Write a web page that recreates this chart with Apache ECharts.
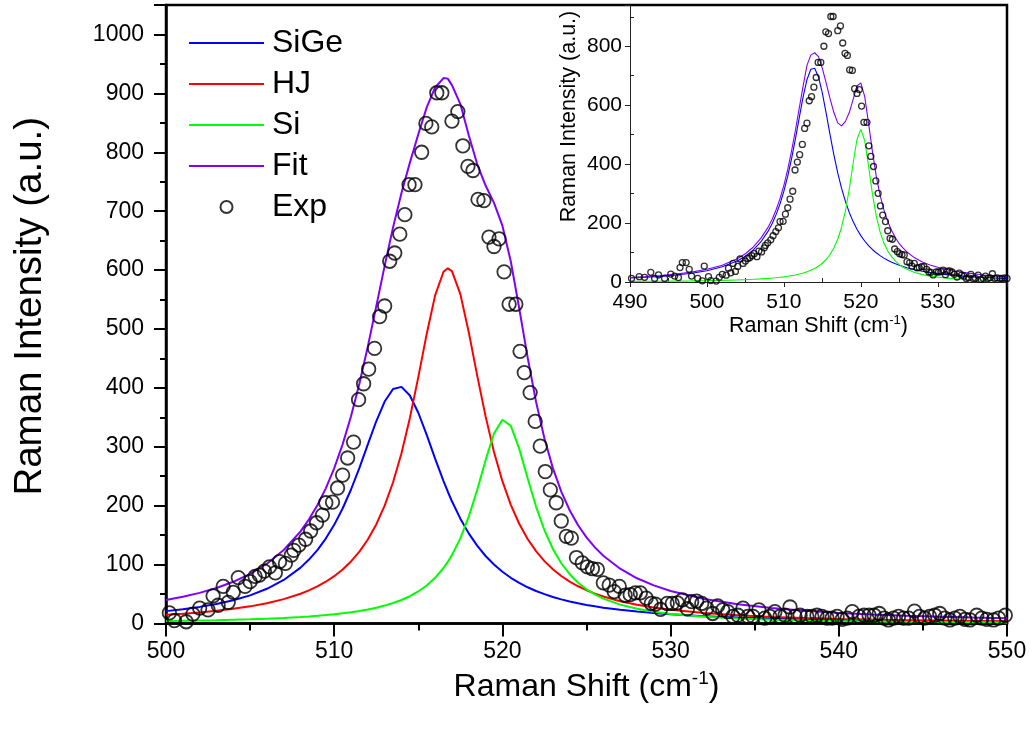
<!DOCTYPE html>
<html>
<head>
<meta charset="utf-8">
<script src="https://cdn.jsdelivr.net/npm/echarts@6/dist/echarts.min.js"></script>
<style>
html,body{margin:0;padding:0;background:#fff;}
#chart{width:1034px;height:733px;}
</style>
</head>
<body>
<div id="chart"></div>
<script>
// ---- tick labels ----
const mainXTicks = [500, 510, 520, 530, 540, 550];
const mainYTicks = [0, 100, 200, 300, 400, 500, 600, 700, 800, 900, 1000];
const insetXTicks = [490, 500, 510, 520, 530];
const insetYTicks = [0, 200, 400, 600, 800];
const legendNames = ['SiGe', 'HJ', 'Si', 'Fit', 'Exp'];

// ---- main panel curves (Raman shift, intensity) ----
const mainX = [500,501,502,503,504,505,506,507,508,508.5,509,509.5,510,510.5,511,511.5,512,512.5,513,513.5,514,514.5,515,515.5,516,516.5,516.75,517,517.5,518,518.5,519,519.5,520,520.5,521,521.5,522,522.5,523,523.5,524,524.5,525,525.5,526,527,528,529,530,532,534,536,538,540,542,544,546,548,550];
const mainSiGe = [21.0,24.2,28.2,33.1,39.5,47.8,58.9,73.9,94.9,108.5,124.7,144.2,167.5,195.2,227.5,264.3,304.0,343.3,376.8,398.0,401.7,387.1,357.8,320.1,280.0,241.8,224.1,207.5,178.0,153.0,132.1,114.6,100.1,87.9,77.6,68.9,61.5,55.2,49.8,45.1,41.0,37.4,34.3,31.5,29.1,26.9,23.2,20.2,17.7,15.7,12.5,10.2,8.5,7.2,6.1,5.3,4.6,4.1,3.6,3.2];
const mainHJ = [14.7,16.6,18.8,21.6,24.9,29.1,34.5,41.4,50.5,56.3,63.0,70.9,80.3,91.6,105.3,122.0,142.6,168.2,200.0,239.8,289.1,349.0,418.3,491.6,557.0,597.2,603.0,598.1,559.2,494.5,421.2,351.6,291.3,241.6,201.5,169.3,143.5,122.8,105.9,92.1,80.7,71.2,63.2,56.5,50.8,45.8,37.8,31.7,27.0,23.2,17.7,13.9,11.2,9.2,7.7,6.6,5.7,4.9,4.3,3.8];
const mainSi = [4.1,4.5,5.1,5.6,6.4,7.2,8.2,9.5,11.1,12.0,13.1,14.3,15.7,17.3,19.1,21.3,23.8,26.8,30.4,34.7,39.9,46.3,54.4,64.5,77.5,94.2,104.5,116.1,144.6,181.4,226.7,277.3,322.6,345.9,335.5,296.9,246.7,198.5,158.3,126.6,102.3,83.7,69.3,58.1,49.3,42.3,32.0,24.9,20.0,16.3,11.5,8.5,6.5,5.2,4.2,3.5,2.9,2.5,2.1,1.9];
const mainFit = [39.8,45.3,52.0,60.3,70.8,84.1,101.6,124.8,156.5,176.8,200.8,229.4,263.5,304.1,351.9,407.6,470.4,538.3,607.2,672.5,730.7,782.4,830.5,876.2,910,926,925,914,881.8,828.9,780.0,743.5,714.0,675.4,614.6,535.1,451.7,376.5,314.0,263.8,224.0,192.3,166.8,146.1,129.2,115.0,93.0,76.8,64.7,55.2,41.7,32.6,26.2,21.6,18.0,15.4,13.2,11.5,10.0,8.9];

// ---- inset curves ----
const insetX = [490,492,494,496,498,500,502,504,505,506,507,508,508.5,509,509.5,510,510.5,511,511.5,512,512.5,513,513.5,514,514.5,515,515.5,516,516.5,517,517.5,518,518.5,519,519.5,520,520.5,521,521.5,522,522.5,523,523.5,524,524.5,525,525.5,526,527,528,529,530,532,534,536,538,539];
const insetSiGe = [13.4,15.9,19.2,23.6,29.7,38.4,51.5,72.4,87.7,108.0,135.8,174.4,199.5,229.4,265.3,308.2,359.1,418.5,485.6,557.6,627.9,686.5,721.9,725.3,695.8,640.9,572.0,499.8,431.3,370.3,317.7,273.3,236.1,205.0,179.1,157.4,139.1,123.6,110.4,99.1,89.4,81.0,73.7,67.3,61.7,56.7,52.3,48.4,41.7,36.4,31.9,28.3,22.6,18.4,15.3,12.9,12.0];
const insetSi = [2.0,2.3,2.7,3.1,3.7,4.5,5.5,7.0,7.9,9.1,10.5,12.3,13.4,14.6,15.9,17.5,19.3,21.5,23.9,26.9,30.3,34.5,39.6,45.9,53.7,63.6,76.3,93.0,115.1,145.0,185.9,241.7,315.3,402.9,483.5,518.0,480,395,300,225,170,132,105,86,71,59,50,43,32,25,20,16.5,11.5,8.5,6.6,5.2,4.7];
const insetFit = [15.5,18.2,22,27,33.5,43,57,80,96,118,148,188,214,246,283,328,382,445,515,590,665,735,770,778,765,725,675,622,575,540,530,545,575,620,665,676,630,540,445,360,295,245,205,175,150,130,115,102,82,68,58,50,38,30,24,20,18];

// ---- experimental points (shared by both panels) ----
const expX = [490.2,491.2,491.9,492.7,493.2,493.7,494.5,495.3,495.8,496.3,496.5,496.8,497.3,497.7,498.0,498.8,499.4,499.65,500.2,500.5,501.2,501.6,502.0,502.5,502.8,503.1,503.4,503.7,504.0,504.3,504.7,505.0,505.3,505.55,505.85,506.15,506.5,506.75,507.1,507.45,507.6,507.9,508.3,508.6,508.95,509.3,509.5,509.9,510.2,510.5,510.8,511.15,511.45,511.75,512.05,512.4,512.7,513.0,513.3,513.6,513.9,514.2,514.45,514.8,515.2,515.45,515.8,516.1,516.4,517.0,517.35,517.65,517.95,518.25,518.55,518.9,519.2,519.5,519.8,520.1,520.4,520.8,521.05,521.3,521.65,521.95,522.25,522.55,522.85,523.2,523.5,523.8,524.1,524.4,524.75,525.05,525.35,525.65,526.0,526.35,526.65,526.95,527.3,527.6,527.9,528.2,528.55,528.85,529.1,529.4,529.8,530.1,530.4,530.7,531.0,531.25,531.55,531.85,532.15,532.5,532.8,533.1,533.4,533.7,534.0,534.3,534.6,534.9,535.25,535.6,535.9,536.2,536.5,536.8,537.1,537.4,537.7,538.1,538.4,538.7,539.0,539.3,539.6,539.9,540.2,540.5,540.8,541.2,541.5,541.8,542.1,542.4,542.7,542.95,543.25,543.55,543.85,544.15,544.5,544.8,545.1,545.4,545.7,546.0,546.3,546.6,546.9,547.2,547.5,547.8,548.2,548.5,548.8,549.2,549.5,549.9];
const expY = [12,18,16,33,12,24,12,27,20,15,49,66,66,43,20,12,4,54,18,5,3,16,26,23,47,31,63,36,53,78,63,71,80,82,89,96,86,105,102,116,124,133,143,157,171,184,205,206,230,252,281,308,380,407,432,467,521,539,615,629,661,694,745,745,800,849,843,901,901,853,869,811,776,769,720,718,656,640,653,597,542,542,462,426,392,343,301,258,227,205,174,148,145,112,103,96,93,92,69,65,54,63,48,49,52,52,43,34,33,24,34,34,35,40,25,37,38,34,26,17,30,23,20,12,14,26,12,12,23,9,12,20,12,14,28,12,14,12,12,14,12,9,9,12,7,9,20,12,14,14,14,17,9,6,9,12,9,9,21,12,9,12,14,17,9,6,9,12,7,6,14,9,7,6,9,14];

const COLORS = {SiGe: '#0000ff', HJ: '#ff0000', Si: '#00ff00', Fit: '#8000ff'};
const FONT = '"Liberation Sans", Arial, Helvetica, sans-serif';

function zip(xs, ys) { return xs.map((x, i) => [x, ys[i]]); }
function step(t) { return t[1] - t[0]; }
const plain = (v) => String(v);

const supRich = (size) => ({ sup: { fontSize: size, fontFamily: FONT, color: '#000', verticalAlign: 'top', lineHeight: Math.round(size * 1.1) } });

const chart = echarts.init(document.getElementById('chart'), null, { renderer: 'canvas' });

const lineSeries = (name, xs, ys, color, width, xi, yi) => ({
  name: name, type: 'line', xAxisIndex: xi, yAxisIndex: yi,
  data: zip(xs, ys), symbol: 'none', smooth: false, clip: true,
  lineStyle: { color: color, width: width }, itemStyle: { color: color },
  z: 3, silent: true
});

const legendData = legendNames.map(n => n === 'Exp'
  ? { name: n }
  : { name: n, itemStyle: { opacity: 0 } });

const option = {
  animation: false,
  backgroundColor: '#fff',
  textStyle: { fontFamily: FONT },
  grid: [
    { left: 166, top: 5, width: 841, height: 618.5, show: true, borderColor: '#000', borderWidth: 2.5, backgroundColor: 'transparent', containLabel: false },
    { left: 630, top: 5, width: 377, height: 277, show: false, containLabel: false }
  ],
  legend: {
    data: legendData, orient: 'vertical', left: 188, top: 27, padding: 0,
    itemWidth: 75, itemHeight: 12, itemGap: 9,
    textStyle: { fontSize: 32, lineHeight: 32, color: '#000', fontFamily: FONT, padding: [0, 0, 0, 3] },
    selectedMode: false
  },
  xAxis: [
    {
      gridIndex: 0, type: 'value',
      min: mainXTicks[0], max: mainXTicks[mainXTicks.length - 1], interval: step(mainXTicks),
      axisLine: { show: true, onZero: false, lineStyle: { color: '#000', width: 2.5 } },
      axisTick: { show: true, length: 13, lineStyle: { color: '#000', width: 2 } },
      minorTick: { show: true, splitNumber: 2, length: 7, lineStyle: { color: '#000', width: 2 } },
      splitLine: { show: false }, minorSplitLine: { show: false },
      axisLabel: { fontSize: 23, color: '#000', margin: 17, fontFamily: FONT, formatter: plain },
      name: 'Raman Shift (cm{sup|-1})', nameLocation: 'middle', nameGap: 46,
      nameTextStyle: { fontSize: 32, color: '#000', fontFamily: FONT, lineHeight: 36, rich: supRich(19) }
    },
    {
      gridIndex: 1, type: 'value',
      min: insetXTicks[0], max: 539, interval: step(insetXTicks),
      axisLine: { show: true, onZero: false, lineStyle: { color: '#222', width: 1 } },
      axisTick: { show: true, length: 5, lineStyle: { color: '#222', width: 1 } },
      minorTick: { show: true, splitNumber: 2, length: -4, lineStyle: { color: '#222', width: 1 } },
      splitLine: { show: false },
      axisLabel: { fontSize: 21, color: '#000', margin: 10, fontFamily: FONT, showMaxLabel: false, formatter: plain },
      name: 'Raman Shift (cm{sup|-1})', nameLocation: 'middle', nameGap: 30,
      nameTextStyle: { fontSize: 21.5, color: '#000', fontFamily: FONT, lineHeight: 24, rich: supRich(13) }
    }
  ],
  yAxis: [
    {
      gridIndex: 0, type: 'value',
      min: mainYTicks[0], max: 1050, interval: step(mainYTicks),
      axisLine: { show: true, onZero: false, lineStyle: { color: '#000', width: 2.5 } },
      axisTick: { show: true, length: 12, lineStyle: { color: '#000', width: 2 } },
      minorTick: { show: true, splitNumber: 2, length: 6, lineStyle: { color: '#000', width: 2 } },
      splitLine: { show: false }, minorSplitLine: { show: false },
      axisLabel: { fontSize: 23, color: '#000', margin: 22, fontFamily: FONT, showMaxLabel: false, formatter: plain },
      name: 'Raman Intensity (a.u.)', nameLocation: 'middle', nameGap: 116,
      nameTextStyle: { fontSize: 38.5, color: '#000', fontFamily: FONT, padding: [0, 0, 0, 16] }
    },
    {
      gridIndex: 1, type: 'value',
      min: insetYTicks[0], max: 940, interval: step(insetYTicks),
      axisLine: { show: true, onZero: false, lineStyle: { color: '#222', width: 1 } },
      axisTick: { show: true, length: 5, lineStyle: { color: '#222', width: 1 } },
      minorTick: { show: true, splitNumber: 2, length: -4, lineStyle: { color: '#222', width: 1 } },
      splitLine: { show: false },
      axisLabel: { fontSize: 21, color: '#000', margin: 8, fontFamily: FONT, showMaxLabel: false, formatter: plain },
      name: 'Raman Intensity (a.u.)', nameLocation: 'middle', nameGap: 50,
      nameTextStyle: { fontSize: 21.5, color: '#000', fontFamily: FONT, padding: [0, 0, 0, 54] }
    }
  ],
  series: [
    lineSeries('SiGe', mainX, mainSiGe, COLORS.SiGe, 2, 0, 0),
    lineSeries('HJ', mainX, mainHJ, COLORS.HJ, 2, 0, 0),
    lineSeries('Si', mainX, mainSi, COLORS.Si, 2, 0, 0),
    lineSeries('Fit', mainX, mainFit, COLORS.Fit, 2, 0, 0),
    {
      name: 'Exp', type: 'scatter', xAxisIndex: 0, yAxisIndex: 0,
      data: zip(expX, expY), symbol: 'circle', symbolSize: 13.5, clip: true,
      itemStyle: { color: 'rgba(255,255,255,0)', borderColor: '#000', borderWidth: 1.8 },
      z: 4, silent: true
    },
    lineSeries('SiGe (inset)', insetX, insetSiGe, COLORS.SiGe, 1.1, 1, 1),
    lineSeries('Si (inset)', insetX, insetSi, COLORS.Si, 1.1, 1, 1),
    lineSeries('Fit (inset)', insetX, insetFit, COLORS.Fit, 1.1, 1, 1),
    {
      name: 'Exp (inset)', type: 'scatter', xAxisIndex: 1, yAxisIndex: 1,
      data: zip(expX, expY), symbol: 'circle', symbolSize: 6, clip: true,
      itemStyle: { color: 'rgba(255,255,255,0)', borderColor: '#000', borderWidth: 1.3 },
      z: 4, silent: true
    }
  ]
};
chart.setOption(option);
</script>
</body>
</html>
